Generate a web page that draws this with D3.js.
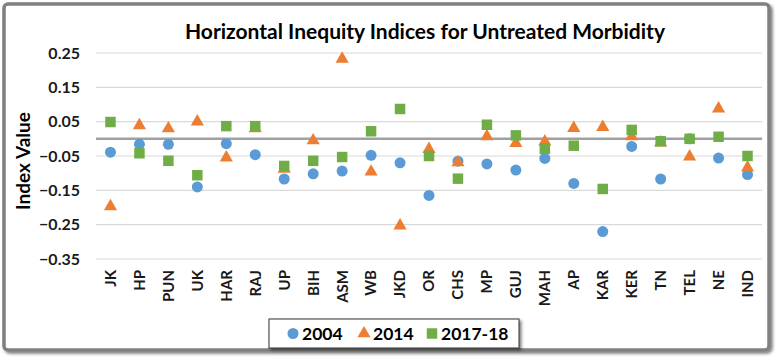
<!DOCTYPE html>
<html>
<head>
<meta charset="utf-8">
<script src="https://cdn.jsdelivr.net/npm/d3@7"></script>
<style>
  body { margin: 0; background: #fff; }
  text { font-family: Lato, "Open Sans", sans-serif; font-weight: bold; }
</style>
</head>
<body>
<div id="chart"></div>
<script>
var states = ["JK","HP","PUN","UK","HAR","RAJ","UP","BIH","ASM","WB","JKD","OR","CHS","MP","GUJ","MAH","AP","KAR","KER","TN","TEL","NE","IND"];
var v2004 = [-0.039,-0.016,-0.016,-0.140,-0.014,-0.046,-0.117,-0.102,-0.094,-0.048,-0.070,-0.165,-0.065,-0.073,-0.091,-0.057,-0.130,-0.270,-0.022,-0.117,0.000,-0.056,-0.104];
var v2014 = [-0.197,0.039,0.030,0.050,-0.055,0.030,-0.088,-0.005,0.233,-0.096,-0.253,-0.030,-0.069,0.007,-0.013,-0.008,0.031,0.034,0.007,-0.011,-0.052,0.088,-0.084];
var v2017 = [0.049,-0.042,-0.064,-0.106,0.037,0.037,-0.079,-0.064,-0.053,0.022,0.087,-0.050,-0.116,0.041,0.010,-0.029,-0.020,-0.146,0.026,-0.007,0.000,0.006,-0.050];
var yTicks = [-0.35,-0.25,-0.15,-0.05,0.05,0.15,0.25];
var seriesNames = ["2004","2014","2017-18"];

var W = 778, H = 362;
var svg = d3.select("#chart").append("svg").attr("width", W).attr("height", H);

var defs = svg.append("defs");
var f = defs.append("filter").attr("id", "shadow").attr("x", "-5%").attr("y", "-5%").attr("width", "115%").attr("height", "130%");
f.append("feDropShadow").attr("dx", 2).attr("dy", 2).attr("stdDeviation", 1.5).attr("flood-color", "#000").attr("flood-opacity", 0.5);

// frame
svg.append("rect").attr("x", 4).attr("y", 4).attr("width", 765).attr("height", 346).attr("rx", 4)
  .attr("fill", "#fff").attr("stroke", "#808080").attr("stroke-width", 3.5).attr("filter", "url(#shadow)");

var x = d3.scaleBand().domain(states).range([96, 762]);
var y = d3.scaleLinear().domain([-0.35, 0.25]).range([259, 53]);

// gridlines
svg.append("g").selectAll("line").data(yTicks).enter().append("line")
  .attr("x1", 96).attr("x2", 762).attr("y1", d => y(d)).attr("y2", d => y(d))
  .attr("stroke", "#d9d9d9").attr("stroke-width", 1.2);

// zero axis line
svg.append("line").attr("x1", 96).attr("x2", 762).attr("y1", y(0)).attr("y2", y(0))
  .attr("stroke", "#a0a0a0").attr("stroke-width", 2.5);

// y tick labels
svg.append("g").selectAll("text").data(yTicks).enter().append("text")
  .attr("x", 80).attr("y", d => y(d)).attr("dy", "0.35em").attr("text-anchor", "end")
  .attr("font-size", 16).attr("fill", "#1a1a1a").text(d => d3.format(".2f")(d));

// x labels
svg.append("g").selectAll("text").data(states).enter().append("text")
  .attr("transform", d => "translate(" + (x(d) + x.bandwidth() / 2) + ",270) rotate(-90)")
  .attr("dy", "0.36em").attr("text-anchor", "end").attr("font-size", 15).attr("fill", "#1a1a1a").text(d => d);

// title
svg.append("text").attr("x", 425).attr("y", 39).attr("text-anchor", "middle").attr("font-size", 21)
  .attr("fill", "#000").text("Horizontal Inequity Indices for Untreated Morbidity");

// y axis title
svg.append("text").attr("transform", "translate(23,161) rotate(-90)").attr("dy", "0.36em")
  .attr("text-anchor", "middle").attr("font-size", 19).attr("fill", "#000").text("Index Value");

var colors = ["#5B9BD5", "#ED7D31", "#70AD47"];
var symbols = [d3.symbolCircle, d3.symbolTriangle, d3.symbolSquare];
var sizes = [95, 75, 110];
var allSeries = [v2004, v2014, v2017];

allSeries.forEach(function(vals, i) {
  svg.append("g").selectAll("path").data(vals).enter().append("path")
    .attr("d", d3.symbol().type(symbols[i]).size(sizes[i]))
    .attr("transform", (d, j) => "translate(" + (x(states[j]) + x.bandwidth() / 2) + "," + y(d) + ")")
    .attr("fill", colors[i]);
});

// legend
var lg = svg.append("g");
lg.append("rect").attr("x", 269).attr("y", 319).attr("width", 250).attr("height", 29)
  .attr("fill", "#fff").attr("stroke", "#333").attr("stroke-width", 1).attr("filter", "url(#shadow)");
var lx = [293, 364, 432];
seriesNames.forEach(function(name, i) {
  lg.append("path").attr("d", d3.symbol().type(symbols[i]).size(sizes[i]))
    .attr("transform", "translate(" + lx[i] + ",333.5)").attr("fill", colors[i]);
  lg.append("text").attr("x", lx[i] + 9).attr("y", 333.5).attr("dy", "0.36em")
    .attr("font-size", 17.5).attr("fill", "#000").text(name);
});
</script>
</body>
</html>
